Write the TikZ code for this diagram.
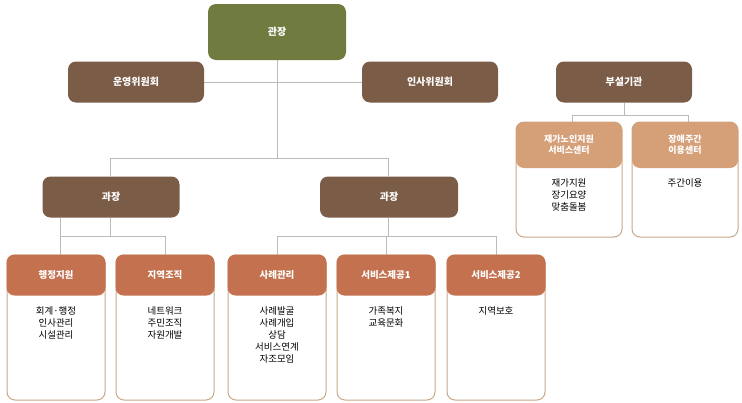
\documentclass[tikz,border=0pt]{standalone}
\usepackage{fontspec}
\setmainfont{Noto Sans CJK KR}
\usetikzlibrary{positioning}
\definecolor{olivebox}{HTML}{6F7B3F}
\definecolor{brownbox}{HTML}{7B5C47}
\definecolor{rustbox}{HTML}{C3714F}
\definecolor{tanbox}{HTML}{D59F78}
\definecolor{cardline}{HTML}{C9A88A}
\definecolor{linkgray}{HTML}{BBBBBB}
\tikzstyle{head} = [rectangle, rounded corners=8pt, text=white, font=\bfseries\fontsize{10}{12}\selectfont, inner sep=0pt]
\tikzstyle{brown} = [head, fill=brownbox, minimum width=136pt, minimum height=41pt]
\tikzstyle{card} = [rectangle, rounded corners=8pt, draw=cardline, line width=1pt, fill=white]
\tikzstyle{cardhead} = [head, fill=rustbox, minimum width=99pt, minimum height=41pt, font=\bfseries\fontsize{9.5}{11}\selectfont]
\tikzstyle{body} = [align=center, font=\fontsize{9.5}{12}\selectfont, anchor=north, inner sep=0pt]
\tikzstyle{link} = [draw=linkgray, line width=1pt]

\begin{document}
\begin{tikzpicture}[x=1pt,y=-1pt]
\useasboundingbox (0,0) rectangle (742,402);

% Links
\draw [link] (277,60) -- (277,158);
\draw [link] (136,82) -- (430,82);
\draw [link] (110,158) -- (110,176);
\draw [link] (110,158) -- (388,158) -- (388,176);
\draw [link] (60,218) -- (60,255);
\draw [link] (110,218) -- (110,236);
\draw [link] (60,236) -- (165,236) -- (165,255);
\draw [link] (388,218) -- (388,236);
\draw [link] (277,236) -- (496,236);
\draw [link] (277,236) -- (277,255);
\draw [link] (386,236) -- (386,255);
\draw [link] (496,236) -- (496,255);
\draw [link] (624,103) -- (624,115);
\draw [link] (572,115) -- (688,115);
\draw [link] (572,115) -- (572,122);
\draw [link] (688,115) -- (688,122);

% Top level
\node (chief) [head, fill=olivebox, minimum width=138pt, minimum height=56pt] at (277,32) {관장};
\node (comm1) [brown] at (136,82) {운영위원회};
\node (comm2) [brown] at (430,82) {인사위원회};
\node (annex) [brown] at (624,82) {부설기관};
\node (mgrL) [brown, minimum width=137pt] at (111,197) {과장};
\node (mgrR) [brown, minimum width=138pt] at (389,197) {과장};

% Cards
\foreach \cx/\hd/\txt [count=\i] in {56/행정지원/{회계·행정\\인사관리\\시설관리}, 165/지역조직/{네트워크\\주민조직\\자원개발}, 277/사례관리/{사례발굴\\사례개입\\상담\\서비스연계\\자조모임}, 386/서비스제공1/{가족복지\\교육문화}, 496/서비스제공2/{지역보호}} {
  \draw [card] (\cx-49,255) rectangle (\cx+49,400);
  \node (h\i) [cardhead] at (\cx,275) {\hd};
  \node (b\i) [body] at (\cx,306) {\txt};
}
\foreach \cx/\hd/\txt [count=\i] in {572/{재가노인지원\\서비스센터}/{재가지원\\장기요양\\맞춤돌봄}, 688/{장애주간\\이용센터}/{주간이용}} {
  \draw [card] (\cx-56,122) rectangle (\cx+50,237);
  \node (ah\i) [cardhead, fill=tanbox, align=center, minimum width=106pt, minimum height=46pt, font=\bfseries\fontsize{9}{11}\selectfont] at (\cx-3,145) {\hd};
  \node (ab\i) [body] at (\cx-3,178) {\txt};
}
\end{tikzpicture}
\end{document}
